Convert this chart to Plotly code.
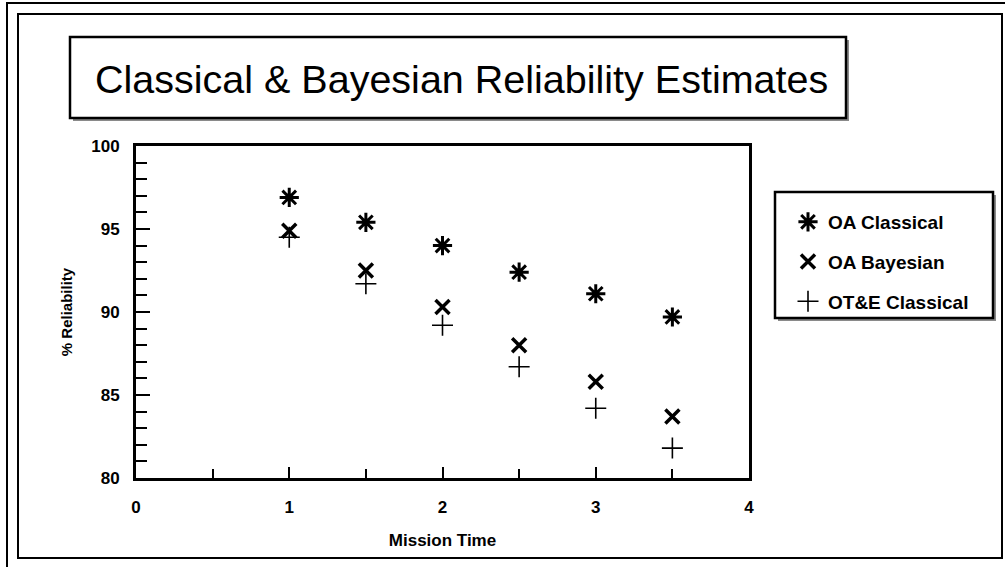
import plotly.graph_objects as go

# ---- data ----
mission_time = [1.0, 1.5, 2.0, 2.5, 3.0, 3.5]
oa_classical = [96.9, 95.4, 94.0, 92.4, 91.1, 89.7]
oa_bayesian = [94.9, 92.5, 90.3, 88.0, 85.8, 83.7]
ote_classical = [94.5, 91.7, 89.2, 86.7, 84.2, 81.8]
series_names = ["OA Classical", "OA Bayesian", "OT&E Classical"]

title_text = "Classical & Bayesian Reliability Estimates"
x_title = "Mission Time"
y_title = "% Reliability"

# ---- layout geometry (pixels) ----
W, H = 1005, 567
L, R, T, B = 136, 749, 146, 478  # plot area edges


def px(xp):
    return (xp - L) / (R - L)


def py(yp):
    return (B - yp) / (B - T)


FONT = "Arial, 'Liberation Sans', sans-serif"

fig = go.Figure()
symbols = [
    dict(symbol="asterisk-open", size=16, line=dict(width=3, color="black")),
    dict(symbol="x-thin-open", size=14, line=dict(width=3.5, color="black")),
    dict(symbol="cross-thin-open", size=15, line=dict(width=1.6, color="black")),
]
for name, ys, mk in zip(series_names, [oa_classical, oa_bayesian, ote_classical], symbols):
    fig.add_trace(go.Scatter(
        x=mission_time, y=ys, mode="markers", name=name,
        legendgroup=name,
        marker=dict(color="black", **mk),
        cliponaxis=False,
    ))

shapes = []
# outer double frame
shapes.append(dict(type="rect", xref="paper", yref="paper",
                   x0=px(7), x1=px(1012), y0=py(3), y1=py(580),
                   line=dict(color="black", width=2), layer="below"))
shapes.append(dict(type="rect", xref="paper", yref="paper",
                   x0=px(18), x1=px(1002), y0=py(14), y1=py(558),
                   line=dict(color="black", width=2), layer="below"))
# title box shadow + box
shapes.append(dict(type="rect", xref="paper", yref="paper",
                   x0=px(73), x1=px(849), y0=py(40), y1=py(121),
                   fillcolor="#8a8a8a", line=dict(width=0), layer="below"))
shapes.append(dict(type="rect", xref="paper", yref="paper",
                   x0=px(70), x1=px(846), y0=py(37), y1=py(118),
                   fillcolor="white", line=dict(color="black", width=2.5), layer="below"))
# legend box shadow + box
shapes.append(dict(type="rect", xref="paper", yref="paper",
                   x0=px(778), x1=px(996), y0=py(195), y1=py(321),
                   fillcolor="#8a8a8a", line=dict(width=0), layer="below"))
shapes.append(dict(type="rect", xref="paper", yref="paper",
                   x0=px(775), x1=px(993), y0=py(192), y1=py(318),
                   fillcolor="white", line=dict(color="black", width=2.5), layer="below"))

annotations = [dict(
    text=title_text, xref="paper", yref="paper",
    x=px(462), y=py(79), xanchor="center", yanchor="middle",
    showarrow=False, font=dict(family=FONT, size=39.5, color="black"),
)]

fig.update_layout(
    width=W, height=H,
    margin=dict(l=L, r=W - R, t=T, b=H - B, pad=0),
    paper_bgcolor="white", plot_bgcolor="white",
    font=dict(family=FONT, color="black"),
    shapes=shapes, annotations=annotations,
    showlegend=True,
    legend=dict(
        x=px(788), y=py(203), xanchor="left", yanchor="top",
        bgcolor="rgba(0,0,0,0)", borderwidth=0,
        font=dict(family=FONT, size=19, color="black", weight="bold"),
        traceorder="grouped", tracegroupgap=12,
        itemsizing="trace",
    ),
    xaxis=dict(
        range=[0, 4], dtick=1, tick0=0,
        showgrid=False, zeroline=False,
        showline=True, linecolor="black", linewidth=3, mirror=True,
        ticks="inside", ticklen=11, tickwidth=2, tickcolor="black",
        minor=dict(dtick=0.5, ticks="inside", ticklen=9, tickwidth=2, tickcolor="black", showgrid=False),
        tickfont=dict(family=FONT, size=17, color="black", weight="bold"),
        ticklabelstandoff=12,
        title=dict(text=x_title, font=dict(family=FONT, size=17, color="black", weight="bold"), standoff=18),
    ),
    yaxis=dict(
        range=[80, 100], dtick=5, tick0=80,
        showgrid=False, zeroline=False,
        showline=True, linecolor="black", linewidth=3, mirror=True,
        ticks="inside", ticklen=14, tickwidth=2, tickcolor="black",
        minor=dict(dtick=1, ticks="inside", ticklen=11, tickwidth=2, tickcolor="black", showgrid=False),
        tickfont=dict(family=FONT, size=17, color="black", weight="bold"),
        ticklabelstandoff=10,
        title=dict(text=y_title, font=dict(family=FONT, size=15, color="black", weight="bold"), standoff=15),
    ),
)

fig.write_html("out.html", config={"displayModeBar": False},
               post_script="document.body.style.margin='0';")
